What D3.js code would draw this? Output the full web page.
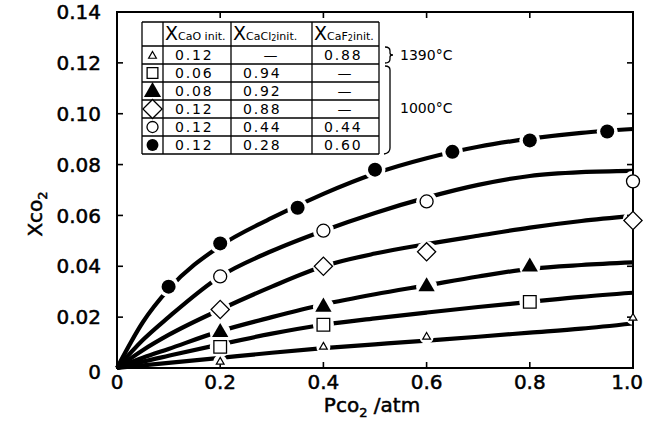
<!DOCTYPE html>
<html>
<head>
<meta charset="utf-8">
<script src="https://cdn.jsdelivr.net/npm/d3@7"></script>
<style>
  body { margin: 0; background: #fff; }
  text { font-family: 'DejaVu Sans', sans-serif; fill: #000; }
</style>
</head>
<body>
<div id="chart"></div>
<script>
const filledCircleX = [0.1, 0.2, 0.35, 0.5, 0.65, 0.8, 0.95];
const filledCircleY = [0.032, 0.049, 0.063, 0.078, 0.085, 0.0895, 0.093];
const openCircleX = [0.2, 0.4, 0.6, 1.0];
const openCircleY = [0.036, 0.054, 0.0655, 0.0734];
const diamondX = [0.2, 0.4, 0.6, 1.0];
const diamondY = [0.023, 0.040, 0.0457, 0.058];
const filledTriX = [0.2, 0.4, 0.6, 0.8];
const filledTriY = [0.014, 0.024, 0.032, 0.0398];
const squareX = [0.2, 0.4, 0.8];
const squareY = [0.0083, 0.017, 0.026];
const openTriX = [0.2, 0.4, 0.6, 1.0];
const openTriY = [0.0024, 0.0083, 0.0122, 0.0197];

// drawn curves (read at these pressures)
const curveX = [0, 0.05, 0.1, 0.2, 0.3, 0.4, 0.5, 0.6, 0.7, 0.8, 0.9, 1.0];
const curveFilledCircle = [0, 0.018, 0.031, 0.048, 0.059, 0.0685, 0.0765, 0.0825, 0.087, 0.0902, 0.0925, 0.094];
const curveOpenCircle = [0, 0.011, 0.020, 0.036, 0.046, 0.054, 0.061, 0.067, 0.072, 0.0755, 0.077, 0.0775];
const curveDiamond = [0, 0.007, 0.013, 0.023, 0.032, 0.040, 0.045, 0.0487, 0.052, 0.0552, 0.0578, 0.0598];
const curveFilledTri = [0, 0.004, 0.0075, 0.0145, 0.020, 0.025, 0.029, 0.0325, 0.036, 0.039, 0.0405, 0.0415];
const curveSquare = [0, 0.0025, 0.0048, 0.0093, 0.0135, 0.017, 0.0195, 0.0218, 0.024, 0.026, 0.028, 0.0296];
const curveOpenTri = [0, 0.001, 0.002, 0.004, 0.006, 0.0078, 0.0093, 0.0108, 0.0123, 0.0139, 0.0155, 0.0175];

const xTicks = [0, 0.2, 0.4, 0.6, 0.8, 1.0];
const xTickLabels = ['0', '0.2', '0.4', '0.6', '0.8', '1.0'];
const yTicks = [0, 0.02, 0.04, 0.06, 0.08, 0.10, 0.12, 0.14];
const yTickLabels = ['0', '0.02', '0.04', '0.06', '0.08', '0.10', '0.12', '0.14'];

// legend table
const legendCaO = ['0.12', '0.06', '0.08', '0.12', '0.12', '0.12'];
const legendCaCl2 = ['—', '0.94', '0.92', '0.88', '0.44', '0.28'];
const legendCaF2 = ['0.88', '—', '—', '—', '0.44', '0.60'];

const width = 645;
const height = 430;
const plotLeft = 117, plotRight = 633, plotTop = 12, plotBottom = 368;

const svg = d3.select('#chart')
  .append('svg')
  .attr('width', width)
  .attr('height', height);

const x = d3.scaleLinear().domain([0, 1]).range([plotLeft, plotRight]);
const y = d3.scaleLinear().domain([0, 0.14]).range([plotBottom, plotTop]);

const series = [
  {kind: 'fcircle', xs: filledCircleX, ys: filledCircleY, curve: curveFilledCircle},
  {kind: 'ocircle', xs: openCircleX, ys: openCircleY, curve: curveOpenCircle},
  {kind: 'diamond', xs: diamondX, ys: diamondY, curve: curveDiamond},
  {kind: 'ftri', xs: filledTriX, ys: filledTriY, curve: curveFilledTri},
  {kind: 'square', xs: squareX, ys: squareY, curve: curveSquare},
  {kind: 'otri', xs: openTriX, ys: openTriY, curve: curveOpenTri}
];

const line = d3.line()
  .x(d => x(d[0]))
  .y(d => y(d[1]))
  .curve(d3.curveMonotoneX);

// curves
svg.append('g')
  .selectAll('path')
  .data(series)
  .enter()
  .append('path')
  .attr('d', s => line(curveX.map((v, i) => [v, s.curve[i]])))
  .attr('fill', 'none')
  .attr('stroke', '#000')
  .attr('stroke-width', 4.2)
  .attr('stroke-linecap', 'butt');

// white gaps round the markers
const points = [];
series.forEach(s => s.xs.forEach((v, i) => points.push({kind: s.kind, px: v, py: s.ys[i]})));

svg.append('g')
  .selectAll('circle')
  .data(points)
  .enter()
  .append('circle')
  .attr('cx', d => x(d.px))
  .attr('cy', d => y(d.py))
  .attr('r', d => d.kind === 'otri' ? 7 : 10.5)
  .attr('fill', '#fff');

// frame
svg.append('rect')
  .attr('x', plotLeft).attr('y', plotTop)
  .attr('width', plotRight - plotLeft).attr('height', plotBottom - plotTop)
  .attr('fill', 'none')
  .attr('stroke', '#000')
  .attr('stroke-width', 2);

// inner ticks on all sides
const tk = svg.append('g').attr('stroke', '#000').attr('stroke-width', 1.6);
xTicks.slice(1, -1).forEach(t => {
  tk.append('line').attr('x1', x(t)).attr('x2', x(t)).attr('y1', plotBottom).attr('y2', plotBottom - 6);
  tk.append('line').attr('x1', x(t)).attr('x2', x(t)).attr('y1', plotTop).attr('y2', plotTop + 6);
});
yTicks.slice(1, -1).forEach(t => {
  tk.append('line').attr('x1', plotLeft).attr('x2', plotLeft + 6).attr('y1', y(t)).attr('y2', y(t));
  tk.append('line').attr('x1', plotRight).attr('x2', plotRight - 6).attr('y1', y(t)).attr('y2', y(t));
});

// tick labels
const lastX = xTicks.length - 1;
svg.append('g')
  .selectAll('text')
  .data(xTicks)
  .enter()
  .append('text')
  .attr('x', (d, i) => i === lastX ? 643 : x(d))
  .attr('y', 389)
  .attr('text-anchor', (d, i) => i === lastX ? 'end' : 'middle')
  .attr('font-size', 20)
  .attr('stroke', '#000').attr('stroke-width', 0.5)
  .text((d, i) => xTickLabels[i]);

svg.append('g')
  .selectAll('text')
  .data(yTicks)
  .enter()
  .append('text')
  .attr('x', 101)
  .attr('y', d => y(d) + (d === 0 ? 4 : 0))
  .attr('dy', '0.36em')
  .attr('text-anchor', 'end')
  .attr('font-size', 20)
  .attr('stroke', '#000').attr('stroke-width', 0.5)
  .text((d, i) => yTickLabels[i]);

// axis titles
const xt = svg.append('text')
  .attr('x', 372).attr('y', 412)
  .attr('text-anchor', 'middle')
  .attr('font-size', 20)
  .attr('stroke', '#000').attr('stroke-width', 0.5);
xt.append('tspan').text('Pco');
xt.append('tspan').attr('font-size', 13).attr('dy', 5).text('2');
xt.append('tspan').attr('dy', -5).text(' /atm');

const yt = svg.append('text')
  .attr('transform', 'translate(42,214) rotate(-90)')
  .attr('text-anchor', 'middle')
  .attr('font-size', 20)
  .attr('stroke', '#000').attr('stroke-width', 0.5);
yt.append('tspan').text('Xco');
yt.append('tspan').attr('font-size', 13).attr('dy', 5).text('2');

// markers
function drawMarker(g, kind, cx, cy, scale) {
  const k = scale || 1;
  if (kind === 'fcircle') {
    g.append('circle').attr('cx', cx).attr('cy', cy).attr('r', 7 * k).attr('fill', '#000');
  } else if (kind === 'ocircle') {
    g.append('circle').attr('cx', cx).attr('cy', cy).attr('r', 6.5 * k)
      .attr('fill', '#fff').attr('stroke', '#000').attr('stroke-width', 1.3);
  } else if (kind === 'diamond') {
    g.append('path').attr('d', d3.symbol().type(d3.symbolSquare).size(165 * k * k)())
      .attr('transform', `translate(${cx},${cy}) rotate(45)`)
      .attr('fill', '#fff').attr('stroke', '#000').attr('stroke-width', 1.3);
  } else if (kind === 'ftri') {
    g.append('path').attr('d', d3.symbol().type(d3.symbolTriangle).size(115 * k * k)())
      .attr('transform', `translate(${cx},${cy})`)
      .attr('fill', '#000');
  } else if (kind === 'square') {
    g.append('path').attr('d', d3.symbol().type(d3.symbolSquare).size(160 * k * k)())
      .attr('transform', `translate(${cx},${cy})`)
      .attr('fill', '#fff').attr('stroke', '#000').attr('stroke-width', 1.3);
  } else if (kind === 'otri') {
    g.append('path').attr('d', d3.symbol().type(d3.symbolTriangle).size(26 * k * k)())
      .attr('transform', `translate(${cx},${cy})`)
      .attr('fill', '#fff').attr('stroke', '#000').attr('stroke-width', 1.2);
  }
}

const mk = svg.append('g');
points.forEach(p => drawMarker(mk, p.kind, x(p.px), y(p.py)));

// legend table
const colX = [142, 163, 231, 312, 379];
const headTop = 22, headBottom = 46, rowH = 18;
const nRows = legendCaO.length;
const lg = svg.append('g');
lg.append('rect')
  .attr('x', colX[0]).attr('y', headTop)
  .attr('width', colX[4] - colX[0]).attr('height', headBottom + nRows * rowH - headTop)
  .attr('fill', '#fff');
const grid = lg.append('g').attr('stroke', '#000').attr('stroke-width', 1.3);
colX.forEach(cx => grid.append('line').attr('x1', cx).attr('x2', cx)
  .attr('y1', headTop).attr('y2', headBottom + nRows * rowH));
grid.append('line').attr('x1', colX[0]).attr('x2', colX[4]).attr('y1', headTop).attr('y2', headTop);
d3.range(nRows + 1).forEach(i => grid.append('line')
  .attr('x1', colX[0]).attr('x2', colX[4])
  .attr('y1', headBottom + i * rowH).attr('y2', headBottom + i * rowH));

const headers = [['CaO init.', null, ''], ['CaCl', '2', 'init.'], ['CaF', '2', 'init.']];
headers.forEach((h, i) => {
  const t = lg.append('text')
    .attr('x', colX[i + 1] + 2).attr('y', headBottom - 6)
    .attr('font-size', 19);
  t.append('tspan').text('X');
  t.append('tspan').attr('font-size', 11).attr('dy', 0).text(h[0]);
  if (h[1]) {
    t.append('tspan').attr('font-size', 8).attr('dy', 1).text(h[1]);
    t.append('tspan').attr('font-size', 11).attr('dy', -1).text(h[2]);
  }
});

const legendKinds = ['otri', 'square', 'ftri', 'diamond', 'ocircle', 'fcircle'];
const legendScale = [1, 0.85, 1.05, 1.05, 0.85, 0.85];
legendKinds.forEach((kind, i) => {
  const cy = headBottom + i * rowH + rowH / 2;
  drawMarker(lg, kind, 152.5, cy + (kind === 'otri' || kind === 'ftri' ? 1 : 0), legendScale[i]);
  [legendCaO, legendCaCl2, legendCaF2].forEach((col, j) => {
    const v = col[i];
    const dash = v === '—';
    lg.append('text')
      .attr('x', dash ? (colX[j + 1] + colX[j + 2]) / 2 : colX[j + 1] + 12)
      .attr('y', cy)
      .attr('dy', '0.38em')
      .attr('text-anchor', dash ? 'middle' : 'start')
      .attr('font-size', 14)
      .attr('letter-spacing', 1.8)
      .text(v);
  });
});

// temperature brackets
const br = svg.append('g').attr('fill', 'none').attr('stroke', '#000').attr('stroke-width', 1.3);
br.append('path').attr('d', 'M385,47 Q390,47 390,51 L390,53 Q390,55 393,55 Q390,55 390,57 L390,59 Q390,63 385,63');
br.append('path').attr('d', 'M385,66 Q390,66 390,70 L390,148 Q390,153 384,154');
svg.append('text').attr('x', 400).attr('y', 55).attr('dy', '0.36em').attr('font-size', 14).text('1390°C');
svg.append('text').attr('x', 400).attr('y', 108).attr('dy', '0.36em').attr('font-size', 14).text('1000°C');
</script>
</body>
</html>
